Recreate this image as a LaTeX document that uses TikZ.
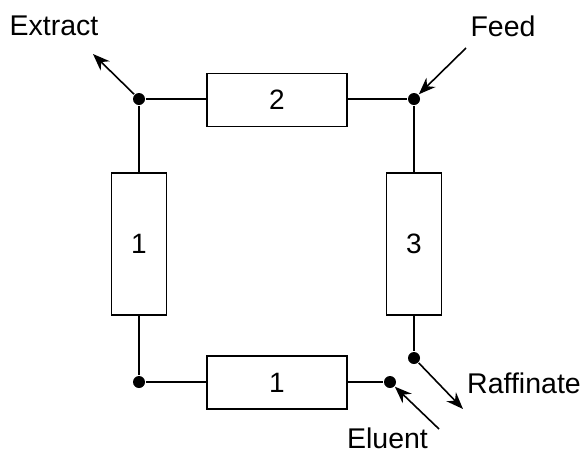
\documentclass[tikz,border=0pt]{standalone}
\usepackage{fontspec}
\setmainfont{Liberation Sans}
\usetikzlibrary{arrows.meta}
\begin{document}
\begin{tikzpicture}[x=1pt,y=-1pt,
  line width=1.5pt,
  hbox/.style={draw,minimum width=140pt,minimum height=53pt,inner sep=0pt,font=\fontsize{28}{30}\selectfont},
  vbox/.style={draw,minimum width=55pt,minimum height=142pt,inner sep=0pt,font=\fontsize{28}{30}\selectfont},
  port/.style={circle,fill=black,inner sep=0pt,minimum size=12pt},
  lbl/.style={font=\fontsize{28.5}{30}\selectfont,inner sep=0pt,anchor=base,text depth=0pt},
  flow/.style={-{Stealth[length=17pt,width=13pt]},line width=1.6pt}]
\useasboundingbox (0,0) rectangle (584,456);
\node[hbox] (b2) at (277,100) {2};
\node[vbox] (b1l) at (139,244) {1};
\node[vbox] (b3) at (414,244) {3};
\node[hbox] (b1b) at (277,382.5) {1};
\node[port] (tl) at (139,99) {};
\node[port] (tr) at (414,99) {};
\node[port] (bl) at (139,382) {};
\node[port] (br) at (390,382) {};
\node[port] (rr) at (414,358) {};
\draw (tl) -- (tl -| b2.west);
\draw (b2.east |- tr) -- (tr);
\draw (tl) -- (b1l.north);
\draw (b1l.south) -- (bl);
\draw (bl) -- (bl -| b1b.west);
\draw (b1b.east |- br) -- (br);
\draw (tr) -- (b3.north);
\draw (b3.south) -- (rr);
\node[lbl] (ext) at (54,35) {Extract};
\node[lbl] (feed) at (503,36) {Feed};
\node[lbl] (raf) at (524,393) {Raffinate};
\node[lbl] (elu) at (387.5,448) {Eluent};
\coordinate (extT) at (93,54);
\coordinate (feedS) at (466,48);
\coordinate (rafT) at (463,409);
\coordinate (eluS) at (439,429);
\draw[flow] (tl) -- (extT);
\draw[flow] (feedS) -- (tr);
\draw[flow] (rr) -- (rafT);
\draw[flow] (eluS) -- (br);
\end{tikzpicture}
\end{document}
